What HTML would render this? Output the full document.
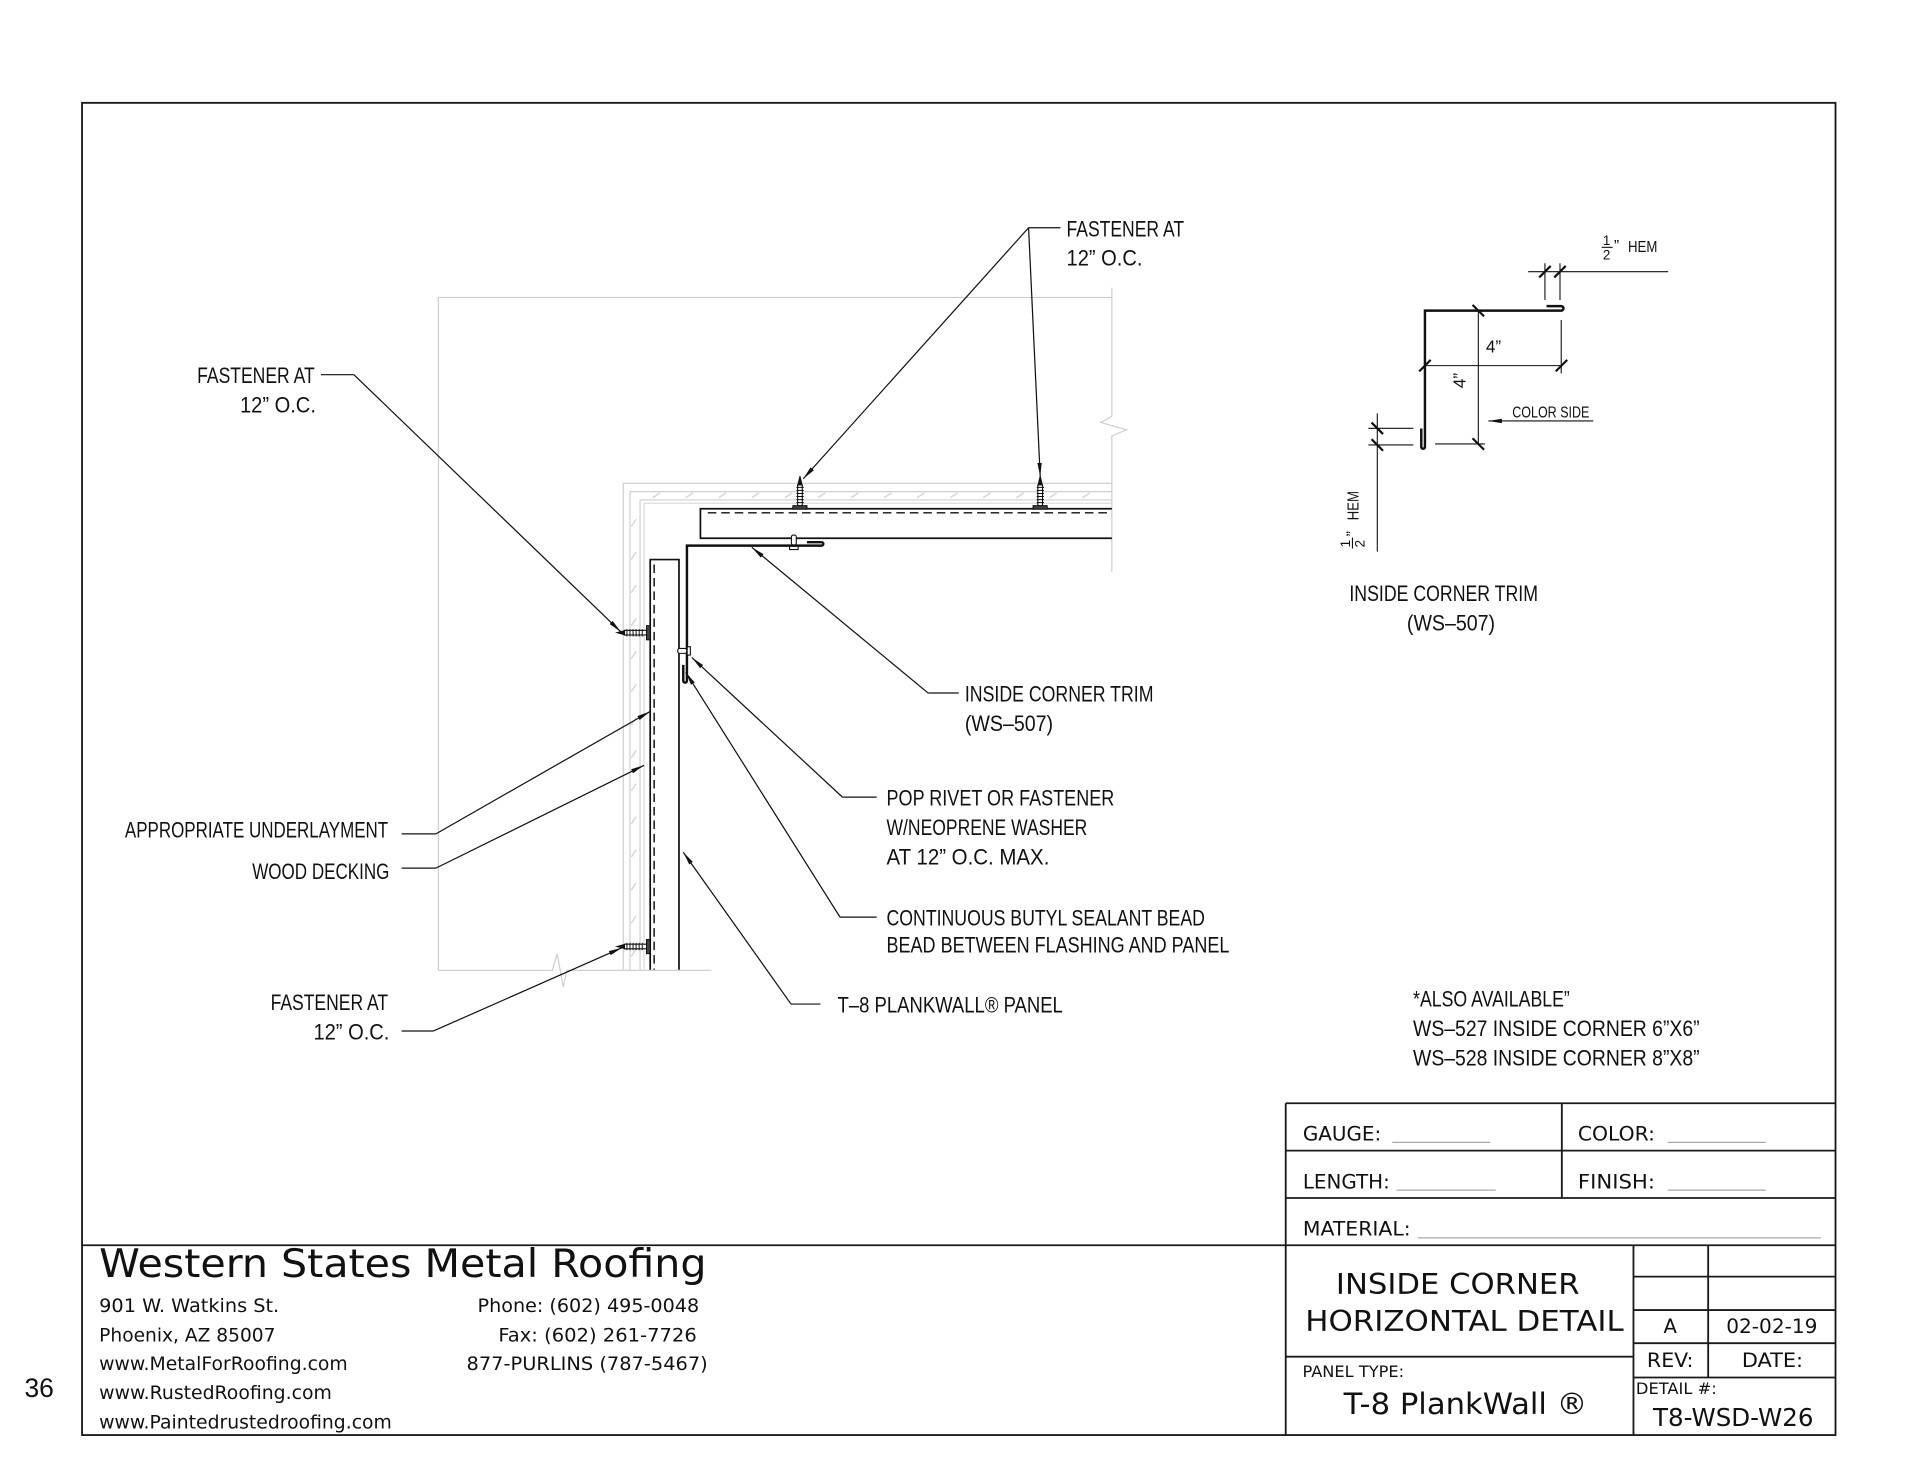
<!DOCTYPE html>
<html><head><meta charset="utf-8">
<style>
html,body{margin:0;padding:0;background:#fff;}
svg{display:block;}
.a{font-family:"Liberation Sans",sans-serif;font-size:18px;fill:#111;}
.s{font-family:"DejaVu Sans","Liberation Sans",sans-serif;fill:#111;}
</style></head>
<body>
<svg xmlns="http://www.w3.org/2000/svg" width="1920" height="1484" viewBox="0 0 1568 1211.97" preserveAspectRatio="none">
<defs>
<marker id="ar" markerUnits="userSpaceOnUse" markerWidth="12" markerHeight="6" refX="11" refY="3" orient="auto">
<path d="M0,1.2 L11,3 L0,4.8 z" fill="#111"/>
</marker>
</defs>
<rect x="0" y="0" width="1568" height="1212" fill="#fff"/>

<!-- gray construction lines -->
<g fill="none" stroke="#cfcfcf" stroke-width="1">
<path d="M358,792.5 V243 H908"/>
<path d="M908,235 V340 L899,345 L920,351 L908,356 V467"/>
<path d="M358,792.5 H451 L455,779 L460,806 L463,792.5 H581"/>
<path d="M509,792 V394.7 H908"/>
<path d="M514.5,792 V401.5 H908"/>
<path d="M522.7,792 V408.3 H908"/>
<path d="M526,792 V411 H908" stroke="#dcdcdc"/>
</g>
<g stroke="#d6d6d6" stroke-width="1.2" fill="none">
<path d="M533,406.5 l6,-4 M560,406.5 l6,-4 M587,406.5 l6,-4 M614,406.5 l6,-4 M641,406.5 l6,-4 M668,406.5 l6,-4 M695,406.5 l6,-4 M722,406.5 l6,-4 M749,406.5 l6,-4 M776,406.5 l6,-4 M803,406.5 l6,-4 M830,406.5 l6,-4 M857,406.5 l6,-4 M884,406.5 l6,-4"/>
<path d="M515.5,430 l4,-6 M515.5,457 l4,-6 M515.5,484 l4,-6 M515.5,511 l4,-6 M515.5,538 l4,-6 M515.5,565 l4,-6 M515.5,592 l4,-6 M515.5,619 l4,-6 M515.5,646 l4,-6 M515.5,673 l4,-6 M515.5,700 l4,-6 M515.5,727 l4,-6 M515.5,754 l4,-6 M515.5,781 l4,-6"/>
</g>

<!-- panels -->
<g fill="none" stroke="#111" stroke-width="1.4">
<path d="M908,415.5 H572 V439.6 H908"/>
<path d="M531,792 V457 H554.5 V792"/>
</g>
<g fill="none" stroke="#111" stroke-width="1.2" stroke-dasharray="7,4">
<path d="M578,418.8 H908"/>
<path d="M534.2,461 V792"/>
</g>

<!-- trim -->
<path d="M659,442.8 H671 A1.4,1.4 0 0 1 671,445.6 H561 V556 A1.5,1.5 0 0 1 558,556 V543" fill="none" stroke="#111" stroke-width="2"/>

<!-- screws -->
<g stroke="#111" stroke-width="0.9" fill="#fff">
<path d="M651.4,397 L653.3,389 L655.2,397 Z" fill="#111"/>
<rect x="651.4" y="396" width="3.8" height="17"/>
<path d="M650.4,398 h6 M650.4,400.5 h6 M650.4,403 h6 M650.4,405.5 h6 M650.4,408 h6 M650.4,410.5 h6" stroke-width="0.8"/>
<rect x="647.5" y="413" width="11.5" height="2.8" fill="#444"/>
<path d="M847.6,397 L849.5,389 L851.4,397 Z" fill="#111"/>
<rect x="847.6" y="396" width="3.8" height="17"/>
<path d="M846.6,398 h6 M846.6,400.5 h6 M846.6,403 h6 M846.6,405.5 h6 M846.6,408 h6 M846.6,410.5 h6" stroke-width="0.8"/>
<rect x="843.7" y="413" width="11.5" height="2.8" fill="#444"/>
<path d="M511,514.8 L504,516.7 L511,518.6 Z" fill="#111"/>
<rect x="510" y="514.8" width="18" height="3.8"/>
<path d="M512,513.8 v6 M514.5,513.8 v6 M517,513.8 v6 M519.5,513.8 v6 M522,513.8 v6 M524.5,513.8 v6" stroke-width="0.8"/>
<rect x="528" y="511" width="3" height="11.5" fill="#444"/>
<path d="M511,771.1 L504,773 L511,774.9 Z" fill="#111"/>
<rect x="510" y="771.1" width="18" height="3.8"/>
<path d="M512,770 v6 M514.5,770 v6 M517,770 v6 M519.5,770 v6 M522,770 v6 M524.5,770 v6" stroke-width="0.8"/>
<rect x="528" y="767.3" width="3" height="11.5" fill="#444"/>
<rect x="646.3" y="437" width="4" height="8" rx="1.5"/>
<rect x="644.8" y="446.2" width="7" height="2.6"/>
<rect x="553.5" y="529.6" width="7.3" height="4" rx="1.5"/>
<rect x="561.2" y="528.2" width="2.6" height="6.8"/>
</g>

<!-- leaders -->
<g fill="none" stroke="#111" stroke-width="1">
<path d="M840,186 H866"/>
<path d="M840,186 L656,391" marker-end="url(#ar)"/>
<path d="M840,186 L849.5,389" marker-end="url(#ar)"/>
<path d="M262,306 H289"/>
<path d="M289,306 L507,516" marker-end="url(#ar)"/>
<path d="M758,566 H783"/>
<path d="M758,566 L614,447" marker-end="url(#ar)"/>
<path d="M688,651 H716"/>
<path d="M688,651 L565,537" marker-end="url(#ar)"/>
<path d="M686,749 H716"/>
<path d="M686,749 L560,549" marker-end="url(#ar)"/>
<path d="M646,820 H670"/>
<path d="M646,820 L558,696" marker-end="url(#ar)"/>
<path d="M328,681 H356"/>
<path d="M356,681 L531,581" marker-end="url(#ar)"/>
<path d="M328,709 H356"/>
<path d="M356,709 L526,625" marker-end="url(#ar)"/>
<path d="M328,842 H354"/>
<path d="M354,842 L508,774" marker-end="url(#ar)"/>
</g>

<!-- annotation text -->
<text class="a" x="871" y="193" textLength="96" lengthAdjust="spacingAndGlyphs">FASTENER AT</text>
<text class="a" x="871" y="217" textLength="62" lengthAdjust="spacingAndGlyphs">12” O.C.</text>
<text class="a" x="257" y="313" text-anchor="end" textLength="96" lengthAdjust="spacingAndGlyphs">FASTENER AT</text>
<text class="a" x="258" y="337" text-anchor="end" textLength="62" lengthAdjust="spacingAndGlyphs">12” O.C.</text>
<text class="a" x="788" y="573" textLength="154" lengthAdjust="spacingAndGlyphs">INSIDE CORNER TRIM</text>
<text class="a" x="788" y="597" textLength="72" lengthAdjust="spacingAndGlyphs">(WS–507)</text>
<text class="a" x="724" y="658" textLength="186" lengthAdjust="spacingAndGlyphs">POP RIVET OR FASTENER</text>
<text class="a" x="724" y="682" textLength="164" lengthAdjust="spacingAndGlyphs">W/NEOPRENE WASHER</text>
<text class="a" x="724" y="706" textLength="133" lengthAdjust="spacingAndGlyphs">AT 12” O.C. MAX.</text>
<text class="a" x="724" y="756" textLength="260" lengthAdjust="spacingAndGlyphs">CONTINUOUS BUTYL SEALANT BEAD</text>
<text class="a" x="724" y="778" textLength="280" lengthAdjust="spacingAndGlyphs">BEAD BETWEEN FLASHING AND PANEL</text>
<text class="a" x="684" y="827" textLength="184" lengthAdjust="spacingAndGlyphs">T–8 PLANKWALL® PANEL</text>
<text class="a" x="317" y="684" text-anchor="end" textLength="215" lengthAdjust="spacingAndGlyphs">APPROPRIATE UNDERLAYMENT</text>
<text class="a" x="318" y="718" text-anchor="end" textLength="112" lengthAdjust="spacingAndGlyphs">WOOD DECKING</text>
<text class="a" x="317" y="825" text-anchor="end" textLength="96" lengthAdjust="spacingAndGlyphs">FASTENER AT</text>
<text class="a" x="318" y="849" text-anchor="end" textLength="62" lengthAdjust="spacingAndGlyphs">12” O.C.</text>

<!-- trim detail -->
<path d="M1263,250 H1275 A1.85,1.85 0 0 1 1275,253.7 H1163.7 V365 A1.5,1.5 0 0 1 1160.7,365 V350" fill="none" stroke="#111" stroke-width="2"/>
<g fill="none" stroke="#111" stroke-width="0.9">
<path d="M1207.3,253.7 V362.6"/>
<path d="M1172,362.6 H1212.7"/>
<path d="M1163.7,298.6 H1275.4"/>
<path d="M1275,261.3 V304.9"/>
<path d="M1248,221.9 H1362.4"/>
<path d="M1261.7,215 V245 M1274,215 V245"/>
<path d="M1124.8,337.6 V450.5"/>
<path d="M1117.5,349.8 H1154.2 M1117.5,363.4 H1154.2"/>
<path d="M1301.2,343.8 H1215.5" marker-end="url(#ar)"/>
</g>
<g fill="none" stroke="#111" stroke-width="1.8">
<path d="M1202.6,249 l9.4,9.4 M1202.6,357.9 l9.4,9.4"/>
<path d="M1159,303.3 l9.4,-9.4 M1270.5,303.3 l9.4,-9.4"/>
<path d="M1257,226.6 l9.4,-9.4 M1269.3,226.6 l9.4,-9.4"/>
<path d="M1120.1,345.1 l9.4,9.4 M1120.1,358.7 l9.4,9.4"/>
</g>
<text class="a" x="1235" y="341" style="font-size:13px" textLength="63" lengthAdjust="spacingAndGlyphs">COLOR SIDE</text>
<text class="a" x="1213.5" y="288" style="font-size:14px">4”</text>
<text class="a" transform="translate(1197,317) rotate(-90)" style="font-size:14px">4”</text>
<text class="a" x="1309" y="200" style="font-size:11px">1</text>
<path d="M1308,202 H1317" stroke="#111" stroke-width="0.9"/>
<text class="a" x="1309" y="212" style="font-size:11px">2</text>
<text class="a" x="1318" y="205" style="font-size:13px">”</text>
<text class="a" x="1329.5" y="206" style="font-size:13px" textLength="24" lengthAdjust="spacingAndGlyphs">HEM</text>
<g transform="translate(1109.5,447) rotate(-90)">
<text class="a" x="0" y="-7" style="font-size:11px">1</text>
<path d="M-1,-5 H8" stroke="#111" stroke-width="0.9"/>
<text class="a" x="0" y="5" style="font-size:11px">2</text>
<text class="a" x="9" y="-1" style="font-size:13px">”</text>
<text class="a" x="22" y="0" style="font-size:13px" textLength="24" lengthAdjust="spacingAndGlyphs">HEM</text>
</g>
<text class="a" x="1102" y="491" textLength="154" lengthAdjust="spacingAndGlyphs">INSIDE CORNER TRIM</text>
<text class="a" x="1149" y="515" textLength="72" lengthAdjust="spacingAndGlyphs">(WS–507)</text>
<text class="a" x="1154" y="822" textLength="128" lengthAdjust="spacingAndGlyphs">*ALSO AVAILABLE”</text>
<text class="a" x="1154" y="846" textLength="234" lengthAdjust="spacingAndGlyphs">WS–527 INSIDE CORNER 6”X6”</text>
<text class="a" x="1154" y="870" textLength="234" lengthAdjust="spacingAndGlyphs">WS–528 INSIDE CORNER 8”X8”</text>

<!-- border & title block -->
<g fill="none" stroke="#1a1a1a" stroke-width="1.5">
<rect x="67" y="84" width="1432" height="1088"/>
<path d="M67,1017 H1499"/>
<path d="M1050,901 V1172"/>
<path d="M1050,901 H1499 M1050,939.7 H1499 M1050,978.4 H1499"/>
<path d="M1275.5,901 V978.4"/>
<path d="M1334,1017 V1172"/>
<path d="M1395,1017 V1125"/>
<path d="M1334,1042.6 H1499 M1334,1069.9 H1499 M1334,1097 H1499 M1334,1125 H1499"/>
<path d="M1050,1108 H1334"/>
</g>
<g stroke="#a8a8a8" stroke-width="1">
<path d="M1137,933 H1217 M1362,933 H1442 M1140.5,972 H1221.5 M1362,972 H1442 M1158,1011 H1487"/>
</g>
<text class="s" x="1064" y="931.5" style="font-size:16.3px" textLength="64" lengthAdjust="spacingAndGlyphs">GAUGE:</text>
<text class="s" x="1288.6" y="931.5" style="font-size:16.3px" textLength="63" lengthAdjust="spacingAndGlyphs">COLOR:</text>
<text class="s" x="1064" y="970.5" style="font-size:16.3px" textLength="71" lengthAdjust="spacingAndGlyphs">LENGTH:</text>
<text class="s" x="1288.6" y="970.5" style="font-size:16.3px" textLength="63" lengthAdjust="spacingAndGlyphs">FINISH:</text>
<text class="s" x="1064" y="1009" style="font-size:16.3px" textLength="88" lengthAdjust="spacingAndGlyphs">MATERIAL:</text>
<text class="s" x="1091" y="1057" style="font-size:23px" textLength="199" lengthAdjust="spacingAndGlyphs">INSIDE CORNER</text>
<text class="s" x="1066" y="1087" style="font-size:23px" textLength="260" lengthAdjust="spacingAndGlyphs">HORIZONTAL DETAIL</text>
<text class="s" x="1364" y="1088.5" text-anchor="middle" style="font-size:16px">A</text>
<text class="s" x="1447" y="1088.5" text-anchor="middle" style="font-size:16px" textLength="74.5" lengthAdjust="spacingAndGlyphs">02-02-19</text>
<text class="s" x="1364" y="1116.5" text-anchor="middle" style="font-size:16px" textLength="38" lengthAdjust="spacingAndGlyphs">REV:</text>
<text class="s" x="1447.5" y="1116.5" text-anchor="middle" style="font-size:16px" textLength="50" lengthAdjust="spacingAndGlyphs">DATE:</text>
<text class="s" x="1336" y="1138.5" style="font-size:13px" textLength="66" lengthAdjust="spacingAndGlyphs">DETAIL #:</text>
<text class="s" x="1350" y="1164.5" style="font-size:20px" textLength="131" lengthAdjust="spacingAndGlyphs">T8-WSD-W26</text>
<text class="s" x="1063.7" y="1124.4" style="font-size:13px" textLength="83" lengthAdjust="spacingAndGlyphs">PANEL TYPE:</text>
<text class="s" x="1097.3" y="1155" style="font-size:24px" textLength="199" lengthAdjust="spacingAndGlyphs">T-8 PlankWall ®</text>

<!-- company block -->
<text class="s" x="81" y="1043" style="font-size:32px" textLength="496" lengthAdjust="spacingAndGlyphs">Western States Metal Roofing</text>
<text class="s" x="81" y="1071.5" style="font-size:15.4px" textLength="147" lengthAdjust="spacingAndGlyphs">901 W. Watkins St.</text>
<text class="s" x="81" y="1095.5" style="font-size:15.4px" textLength="144" lengthAdjust="spacingAndGlyphs">Phoenix, AZ 85007</text>
<text class="s" x="81" y="1119" style="font-size:15.4px" textLength="203" lengthAdjust="spacingAndGlyphs">www.MetalForRoofing.com</text>
<text class="s" x="81" y="1142.5" style="font-size:15.4px" textLength="190" lengthAdjust="spacingAndGlyphs">www.RustedRoofing.com</text>
<text class="s" x="81" y="1166.5" style="font-size:15.4px" textLength="239" lengthAdjust="spacingAndGlyphs">www.Paintedrustedroofing.com</text>
<text class="s" x="390" y="1071.5" style="font-size:15.4px" textLength="181" lengthAdjust="spacingAndGlyphs">Phone: (602) 495-0048</text>
<text class="s" x="407" y="1095.5" style="font-size:15.4px" textLength="162" lengthAdjust="spacingAndGlyphs">Fax: (602) 261-7726</text>
<text class="s" x="381" y="1119" style="font-size:15.4px" textLength="197" lengthAdjust="spacingAndGlyphs">877-PURLINS (787-5467)</text>
<text x="20" y="1141" style="font-family:'Liberation Sans',sans-serif;font-size:22px;fill:#111" textLength="24" lengthAdjust="spacingAndGlyphs">36</text>
</svg>
</body></html>
